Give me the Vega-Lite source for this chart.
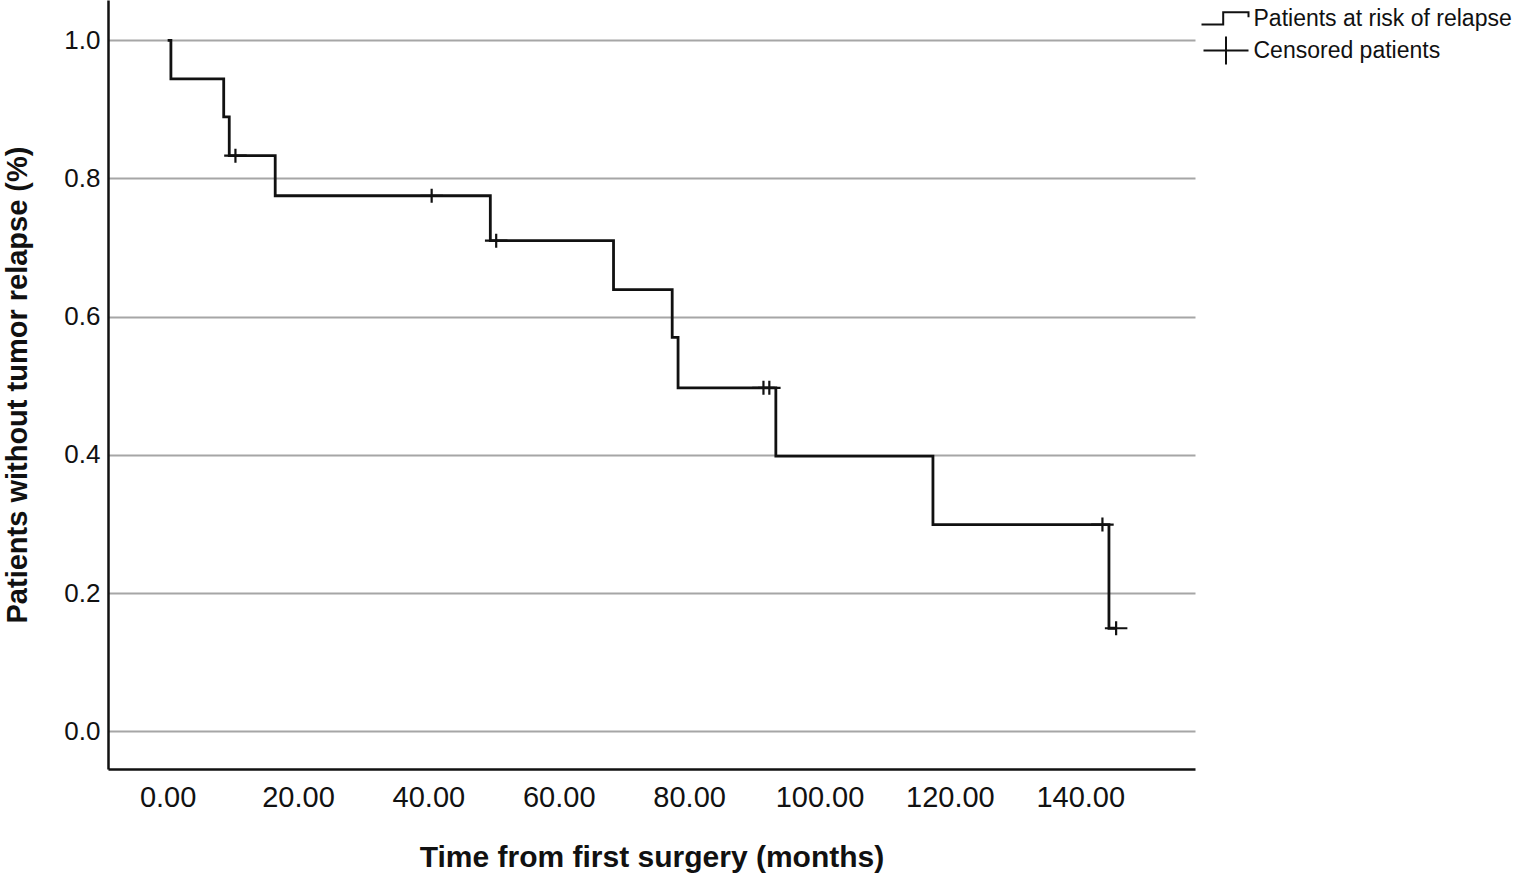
{
  "$schema": "https://vega.github.io/schema/vega-lite/v6.json",
  "description": "Kaplan-Meier curve: patients without tumor relapse.",
  "autosize": {"type": "none"},
  "padding": {"left": 108, "top": 0, "right": 329, "bottom": 109},
  "width": 1087,
  "height": 769,
  "background": "white",
  "datasets": {
    "steps": [
      {"months": 0, "survival": 1.0},
      {"months": 0.5, "survival": 0.944},
      {"months": 8.6, "survival": 0.889},
      {"months": 9.45, "survival": 0.833},
      {"months": 16.5, "survival": 0.775},
      {"months": 49.5, "survival": 0.71},
      {"months": 68.4, "survival": 0.639},
      {"months": 77.4, "survival": 0.57},
      {"months": 78.3, "survival": 0.497},
      {"months": 93.3, "survival": 0.398},
      {"months": 117.4, "survival": 0.299},
      {"months": 144.4, "survival": 0.149},
      {"months": 145.5, "survival": 0.149}
    ],
    "censored": [
      {"months": 10.4, "survival": 0.833, "kind": "Censored patients"},
      {"months": 40.5, "survival": 0.775, "kind": "Censored patients"},
      {"months": 50.4, "survival": 0.71, "kind": "Censored patients"},
      {"months": 91.4, "survival": 0.497, "kind": "Censored patients"},
      {"months": 92.3, "survival": 0.497, "kind": "Censored patients"},
      {"months": 143.4, "survival": 0.299, "kind": "Censored patients"},
      {"months": 145.5, "survival": 0.149, "kind": "Censored patients"}
    ]
  },
  "encoding": {
    "x": {
      "field": "months",
      "type": "quantitative",
      "title": "Time from first surgery (months)",
      "scale": {"domain": [-9.15, 157.6], "nice": false, "zero": false},
      "axis": {
        "values": [0, 20, 40, 60, 80, 100, 120, 140],
        "format": ".2f",
        "grid": false,
        "ticks": false,
        "labelFontSize": 29,
        "labelPadding": 14,
        "titleFontSize": 30,
        "titleFontWeight": "bold",
        "titlePadding": 30
      }
    },
    "y": {
      "field": "survival",
      "type": "quantitative",
      "title": "Patients without tumor relapse (%)",
      "scale": {"domain": [-0.0547, 1.0583], "nice": false, "zero": false},
      "axis": {
        "values": [0, 0.2, 0.4, 0.6, 0.8, 1.0],
        "format": ".1f",
        "grid": true,
        "ticks": false,
        "labelFontSize": 26,
        "labelPadding": 8,
        "titleFontSize": 29,
        "titleFontWeight": "bold",
        "titlePadding": 31
      }
    }
  },
  "layer": [
    {
      "data": {"name": "steps"},
      "mark": {"type": "line", "interpolate": "step-after", "color": "#111", "strokeWidth": 2.8}
    },
    {
      "data": {"name": "censored"},
      "mark": {"type": "point", "filled": false, "color": "#111", "strokeWidth": 2.2, "size": 100, "opacity": 1},
      "encoding": {
        "shape": {
          "field": "kind",
          "type": "nominal",
          "scale": {
            "domain": ["Patients at risk of relapse", "Censored patients"],
            "range": ["M-2.45,0.6H-0.28V-0.63H2.25V-0.13", "M-2.25,0H2.25M0,-1.4V1.4"]
          },
          "legend": {
            "title": null,
            "orient": "none",
            "legendX": 1106.5,
            "legendY": 7,
            "padding": 0,
            "symbolSize": 400,
            "symbolStrokeWidth": 2,
            "symbolStrokeColor": "#111",
            "symbolFillColor": "transparent",
            "labelFontSize": 23,
            "labelOffset": 16,
            "labelLimit": 0,
            "labelColor": "#111",
            "rowPadding": 1
          }
        }
      }
    }
  ],
  "config": {
    "font": "Liberation Sans",
    "view": {"stroke": null},
    "axis": {
      "domainColor": "#111",
      "domainWidth": 2.5,
      "labelColor": "#111",
      "titleColor": "#111",
      "gridColor": "#a6a6a6",
      "gridWidth": 1.8,
      "gridOpacity": 1
    }
  }
}
